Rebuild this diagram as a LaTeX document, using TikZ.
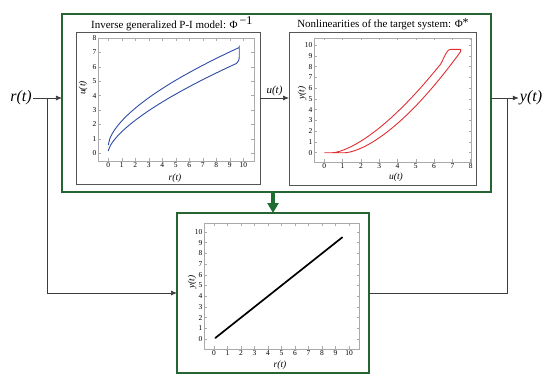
\documentclass[tikz,border=0pt]{standalone}
\usepackage{fontspec}
\setmainfont{Liberation Serif}
\usetikzlibrary{arrows.meta}
\definecolor{boxgreen}{RGB}{38,100,52}
\definecolor{arrowgreen}{RGB}{30,110,50}
\definecolor{boxgray}{RGB}{85,85,85}
\definecolor{framegray}{RGB}{170,170,170}
\definecolor{curveblue}{RGB}{45,75,165}
\definecolor{curvered}{RGB}{225,45,50}
\definecolor{connline}{RGB}{60,60,60}
\tikzset{
  greenbox/.style={draw=boxgreen, line width=1.8bp, inner sep=0pt, outer sep=0pt},
  graybox/.style={draw=boxgray, line width=1bp, inner sep=0pt, outer sep=0pt},
  frame/.style={draw=framegray, line width=0.5bp},
  ticklab/.style={font=\fontsize{7.5}{8}\selectfont, inner sep=1.5bp},
  axlab/.style={font=\fontsize{9.5}{11}\selectfont\itshape, inner sep=0pt},
  titlelab/.style={font=\fontsize{11}{13}\selectfont, inner sep=0pt},
  biglab/.style={font=\fontsize{16}{18}\selectfont\itshape, inner sep=1pt},
  conn/.style={draw=connline, line width=0.7bp},
  arr/.style={-{Latex[length=6bp,width=5bp]}},
  curveb/.style={draw=curveblue, line width=0.9bp, line join=round},
  curver/.style={draw=curvered, line width=0.9bp, line join=round},
}
\begin{document}
\begin{tikzpicture}[x=1bp,y=-1bp]
\useasboundingbox (0,0) rectangle (550,381);
% boxes
\node[greenbox, minimum width=429bp, minimum height=178bp] (outer) at (276.5,103) {};
\node[graybox, minimum width=184bp, minimum height=152bp] (inL) at (168,108) {};
\node[graybox, minimum width=187bp, minimum height=153bp] (inR) at (382.5,108.5) {};
\node[greenbox, minimum width=192bp, minimum height=160bp] (low) at (273,293) {};
% titles
\node[titlelab] (tL) at (172,24) {Inverse generalized P-I model: Φ\,\textsuperscript{\large −1}};
\node[titlelab] (tR) at (383,24) {Nonlinearities of the target system: Φ\raisebox{0.2ex}{\large *}};
% external labels
\node[biglab] (rlab) at (21,98) {r(t)};
\node[biglab] (ylab) at (531,98) {y(t)};
\coordinate (jr) at (47.5,98);
\coordinate (jy) at (507,98);
% connectors
\draw[conn,arr] (rlab.east) -- (outer.west |- rlab.east);
\draw[conn,arr] (jr) |- (low.west);
\draw[conn,arr] (outer.east |- ylab.west) -- (ylab.west);
\draw[conn] (jy) |- (low.east);
\draw[conn,arr] (inL.east |- rlab.east) -- node[above, font=\fontsize{11}{13}\selectfont\itshape, inner sep=2bp] (ulab) {u(t)} (inR.west |- rlab.east);
\draw[arrowgreen, line width=4bp, -{Triangle[length=10bp,width=11bp]}] (low.north |- outer.south) -- (low.north);
% ---------- left plot
\begin{scope}[xshift=108.3bp, yshift=-153.3bp, x=13.5bp, y=14.4bp]
  \draw[frame] (-0.76,-0.53) rectangle (10.79,7.97);
  \foreach \i in {0,...,10} {
    \draw[frame] (\i,-0.53) -- ++(0pt,2.5pt);
    \draw[frame] (\i,7.97) -- ++(0pt,-2.5pt);
    \node[ticklab, anchor=north] at (\i,-0.53) {\i};
  }
  \foreach \i in {0,...,8} {
    \draw[frame] (-0.76,\i) -- ++(2.5pt,0pt);
    \draw[frame] (10.79,\i) -- ++(-2.5pt,0pt);
    \node[ticklab, anchor=east] at (-0.76,\i) {\i};
  }
  \draw[curveb] (0,0.16) -- plot[domain=0.01:9.5, samples=60] (\x,{0.16+1.34*pow(\x,0.672)})
     .. controls (9.65,6.35) and (9.7,6.5) .. (9.7,6.75) -- (9.7,7.47)
     -- plot[domain=9.7:0.12, samples=60] (\x,{0.6+1.65*pow(\x,0.62)}) -- (0,0.58);
\end{scope}
\node[axlab] (lx) at (175,178) {r(t)};
\node[axlab, rotate=90] (ly) at (83,88) {u(t)};
% ---------- right plot
\begin{scope}[xshift=324.3bp, yshift=-152.7bp, x=18.3bp, y=10.76bp]
  \draw[frame] (-0.56,-0.86) rectangle (8.02,10.66);
  \foreach \i in {0,...,8} {
    \draw[frame] (\i,-0.86) -- ++(0pt,2.5pt);
    \draw[frame] (\i,10.66) -- ++(0pt,-2.5pt);
    \node[ticklab, anchor=north] at (\i,-0.86) {\i};
  }
  \foreach \i in {0,...,10} {
    \draw[frame] (-0.56,\i) -- ++(2.5pt,0pt);
    \draw[frame] (8.02,\i) -- ++(-2.5pt,0pt);
    \node[ticklab, anchor=east] at (-0.56,\i) {\i};
  }
  \draw[curver] (0,0) -- (1.13,0)
     -- plot[domain=1.14:7.45, samples=60] (\x,{0.52*pow(\x-1.13,1.57)})
     -- (7.45,9.6) -- (6.9,9.6)
     .. controls (6.65,9.6) and (6.5,8.52) .. (6.3,8.1)
     -- plot[domain=6.3:0.46, samples=60] (\x,{0.554*pow(\x-0.45,1.52)})
     -- (0.45,0);
\end{scope}
\node[axlab] (rx) at (396,177) {u(t)};
\node[axlab, rotate=90] (ry) at (302,93) {y(t)};
% ---------- lower plot
\begin{scope}[xshift=214bp, yshift=-339bp, x=13.5bp, y=10.7bp]
  \draw[frame] (-0.74,-0.93) rectangle (10.74,10.84);
  \foreach \i in {0,...,10} {
    \draw[frame] (\i,-0.93) -- ++(0pt,2.5pt);
    \draw[frame] (\i,10.84) -- ++(0pt,-2.5pt);
    \node[ticklab, anchor=north] at (\i,-0.93) {\i};
    \draw[frame] (-0.74,\i) -- ++(2.5pt,0pt);
    \draw[frame] (10.74,\i) -- ++(-2.5pt,0pt);
    \node[ticklab, anchor=east] at (-0.74,\i) {\i};
  }
  \draw[black, line width=1.7bp, line cap=round] (0.1,0.1) -- (9.5,9.5);
\end{scope}
\node[axlab] (bx) at (280,365) {r(t)};
\node[axlab, rotate=90] (by) at (192,282) {y(t)};
\end{tikzpicture}
\end{document}
